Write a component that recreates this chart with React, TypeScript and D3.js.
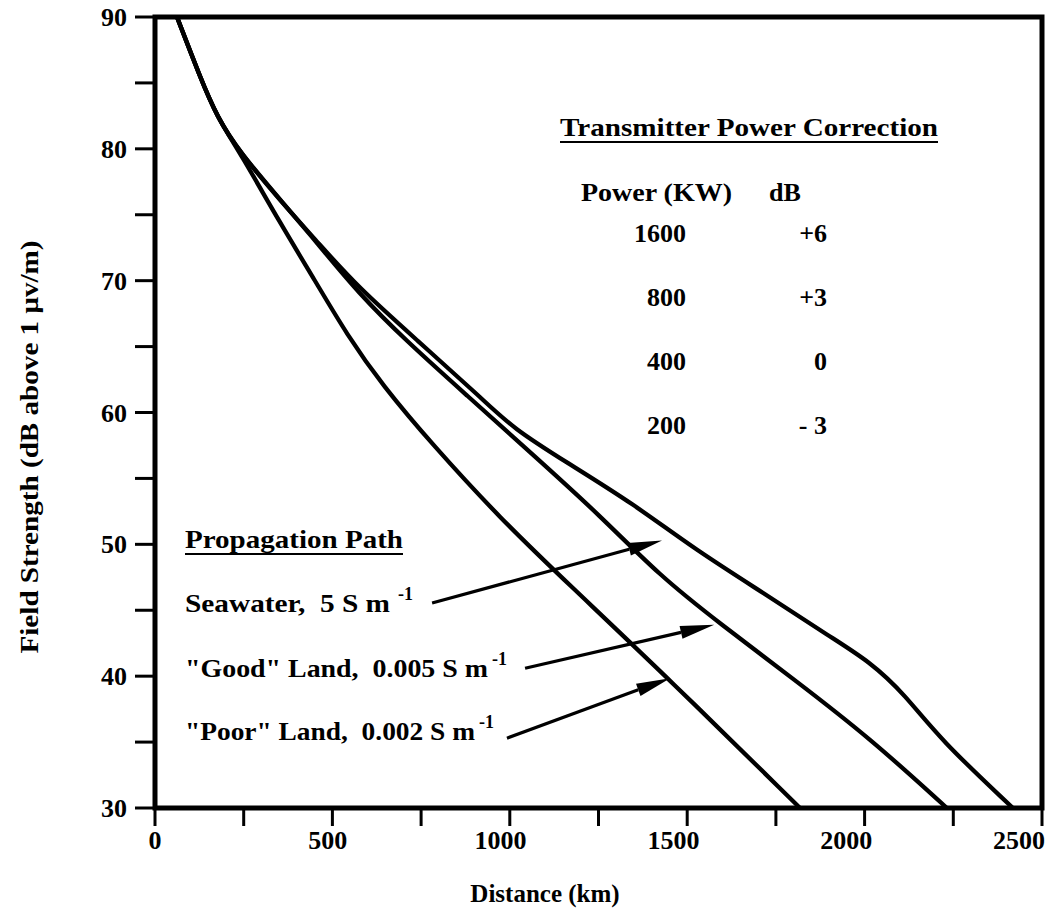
import React from 'react';
import * as d3 from 'd3';

const W = 1060;
const H = 911;

// curves: distance (km) and field strength (dB above 1 uV/m)
const seawaterKm = [62, 127, 175, 240, 352, 459, 572, 738, 924, 1009, 1161, 1347, 1522, 1733, 1902, 2015, 2114, 2213, 2418];
const seawaterDb = [90, 85.45, 82.4, 79.7, 76.1, 72.9, 69.5, 65.5, 61.0, 58.8, 56.2, 53.1, 49.6, 46.0, 43.0, 41.1, 38.6, 35.2, 30];

const goodLandKm = [62, 127, 175, 240, 361, 465, 572, 705, 879, 1065, 1254, 1423, 1592, 1804, 2015, 2232];
const goodLandDb = [90, 85.45, 82.4, 79.7, 75.9, 72.6, 69.1, 65.5, 61.3, 56.8, 52.2, 47.6, 44.0, 39.7, 35.3, 30];

const poorLandKm = [62, 127, 175, 240, 352, 451, 541, 640, 784, 972, 1161, 1452, 1818];
const poorLandDb = [90, 85.45, 82.4, 79.7, 74.4, 70.0, 65.9, 62.1, 57.5, 52.0, 47.1, 39.7, 30];

const xTicks = [0, 250, 500, 750, 1000, 1250, 1500, 1750, 2000, 2250, 2500];
const xTickLabels = [0, 500, 1000, 1500, 2000, 2500];
const yTicks = [30, 35, 40, 45, 50, 55, 60, 65, 70, 75, 80, 85, 90];
const yTickLabels = [30, 40, 50, 60, 70, 80, 90];

const powerKw = ['1600', '800', '400', '200'];
const powerDb = ['+6', '+3', '0', '- 3'];

const pathNames = ['Seawater,  5 S m', '"Good" Land,  0.005 S m', '"Poor" Land,  0.002 S m'];
// arrow from each label to its curve, [km, dB]
const arrowFrom = [[781, 45.55], [1043, 40.6], [992, 35.3]];
const arrowTo = [[1429, 50.3], [1576, 43.9], [1452, 39.85]];

const font = "'Liberation Serif', 'Times New Roman', serif";

function zip(a: number[], b: number[]): [number, number][] {
  return a.map((v, i) => [v, b[i]] as [number, number]);
}

function Arrow({ x1, y1, x2, y2 }: { x1: number; y1: number; x2: number; y2: number }) {
  const ang = Math.atan2(y2 - y1, x2 - x1);
  const len = 34;
  const hw = 6.5;
  const bx = x2 - len * Math.cos(ang);
  const by = y2 - len * Math.sin(ang);
  const px = -Math.sin(ang) * hw;
  const py = Math.cos(ang) * hw;
  return (
    <g>
      <line x1={x1} y1={y1} x2={bx} y2={by} stroke="#000" strokeWidth={3.2} />
      <polygon points={`${x2},${y2} ${bx + px},${by + py} ${bx - px},${by - py}`} fill="#000" />
    </g>
  );
}

export default function App() {
  const x = d3.scaleLinear().domain([0, 2500]).range([155, 1042]);
  const y = d3.scaleLinear().domain([30, 90]).range([808, 17]);
  // the printed tick numbers sit a little left of their ticks
  const xLabel = d3.scaleLinear().domain([0, 2500]).range([155, 1019]);

  const line = d3
    .line<[number, number]>()
    .x(d => x(d[0]))
    .y(d => y(d[1]))
    .curve(d3.curveBasis);

  const series = [zip(seawaterKm, seawaterDb), zip(goodLandKm, goodLandDb), zip(poorLandKm, poorLandDb)];

  const labelY = [612, 677, 740];
  const labelLen = [205, 303, 290];

  return (
    <svg
      width={W}
      height={H}
      style={{ position: 'absolute', left: 0, top: 0, background: '#fff' }}
      fontFamily={font}
      fontWeight="bold"
    >
      <rect x={0} y={0} width={W} height={H} fill="#fff" />

      {/* curves */}
      {series.map((s, i) => (
        <path key={i} d={line(s) || ''} fill="none" stroke="#000" strokeWidth={4.3} strokeLinejoin="round" />
      ))}

      {/* frame */}
      <rect x={x(0)} y={y(90)} width={x(2500) - x(0)} height={y(30) - y(90)} fill="none" stroke="#000" strokeWidth={5} />

      {/* x ticks */}
      {xTicks.map(t => (
        <line key={t} x1={x(t)} x2={x(t)} y1={y(30)} y2={y(30) + 18} stroke="#000" strokeWidth={3} />
      ))}
      {xTickLabels.map(t => (
        <text key={t} x={xLabel(t)} y={849} textAnchor="middle" fontSize={26}>
          {t}
        </text>
      ))}
      <text x={545} y={902} textAnchor="middle" fontSize={25}>
        Distance (km)
      </text>

      {/* y ticks */}
      {yTicks.map(t => (
        <line key={t} x1={x(0) - 20} x2={x(0)} y1={y(t)} y2={y(t)} stroke="#000" strokeWidth={3} />
      ))}
      {yTickLabels.map(t => (
        <text key={t} x={127} y={y(t)} dy="0.35em" textAnchor="end" fontSize={26}>
          {t}
        </text>
      ))}
      <text transform="translate(38,447) rotate(-90)" textAnchor="middle" fontSize={25} textLength={413} lengthAdjust="spacingAndGlyphs">
        Field Strength (dB above 1 μv/m)
      </text>

      {/* transmitter power table */}
      <text x={560} y={136} fontSize={26} textLength={378} lengthAdjust="spacingAndGlyphs">
        Transmitter Power Correction
      </text>
      <line x1={560} x2={938} y1={142} y2={142} stroke="#000" strokeWidth={2} />
      <text x={581} y={201} fontSize={26} textLength={151} lengthAdjust="spacingAndGlyphs">
        Power (KW)
      </text>
      <text x={769} y={201} fontSize={26}>
        dB
      </text>
      {powerKw.map((p, i) => (
        <g key={p}>
          <text x={686} y={242 + i * 64} textAnchor="end" fontSize={26}>
            {p}
          </text>
          <text x={827} y={242 + i * 64} textAnchor="end" fontSize={26} style={{ whiteSpace: 'pre' }}>
            {powerDb[i]}
          </text>
        </g>
      ))}

      {/* propagation path legend */}
      <text x={185} y={548} fontSize={26} textLength={218} lengthAdjust="spacingAndGlyphs">
        Propagation Path
      </text>
      <line x1={185} x2={403} y1={554} y2={554} stroke="#000" strokeWidth={2} />
      {pathNames.map((n, i) => (
        <g key={n}>
          <text x={185} y={labelY[i]} fontSize={26} style={{ whiteSpace: 'pre' }} textLength={labelLen[i]} lengthAdjust="spacingAndGlyphs">
            {n}
          </text>
          <text x={185 + labelLen[i] + (i === 0 ? 8 : 4)} y={labelY[i] - 12} fontSize={18}>
            -1
          </text>
          <Arrow x1={x(arrowFrom[i][0])} y1={y(arrowFrom[i][1])} x2={x(arrowTo[i][0])} y2={y(arrowTo[i][1])} />
        </g>
      ))}
    </svg>
  );
}
